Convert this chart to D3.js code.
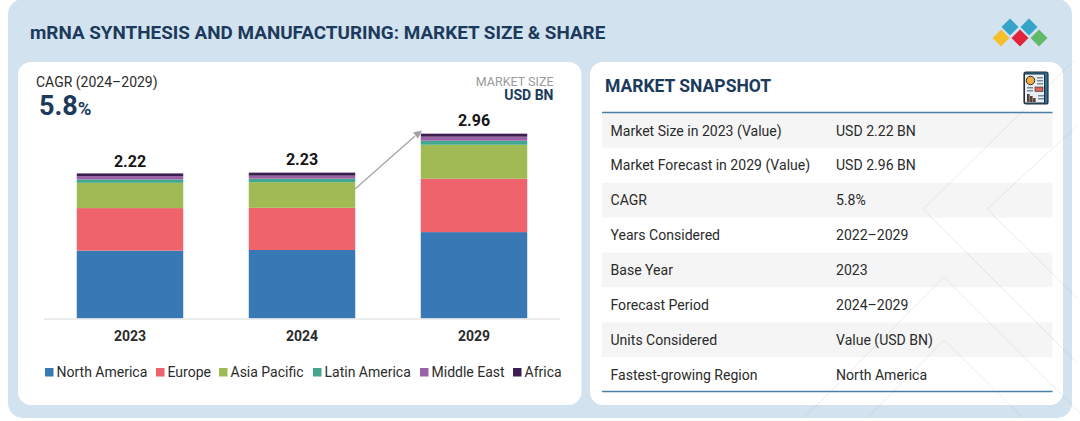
<!DOCTYPE html>
<html>
<head>
<meta charset="utf-8">
<script src="https://cdn.jsdelivr.net/npm/d3@7/dist/d3.min.js"></script>
<style>
html,body{margin:0;padding:0;background:#fff;overflow:hidden}
svg{display:block}
text{font-family:Roboto,sans-serif}
</style>
</head>
<body>
<svg id="c" width="1080" height="421"></svg>
<script>
const years = ["2023", "2024", "2029"];
const totals = [2.22, 2.23, 2.96];
const regions = ["North America", "Europe", "Asia Pacific", "Latin America", "Middle East", "Africa"];
const regionColors = ["#3878b5", "#ee636c", "#a0ba54", "#41a88f", "#9b62a8", "#3c1f50"];
const northAmerica = [1.06, 1.07, 1.35];
const europe = [0.665, 0.66, 0.835];
const asiaPacific = [0.395, 0.40, 0.53];
const latinAmerica = [0.053, 0.055, 0.063];
const middleEast = [0.052, 0.047, 0.063];
const africa = [0.042, 0.047, 0.047];
const snapshotLabels = ["Market Size in 2023 (Value)", "Market Forecast in 2029 (Value)", "CAGR", "Years Considered", "Base Year", "Forecast Period", "Units Considered", "Fastest-growing Region"];
const snapshotValues = ["USD 2.22 BN", "USD 2.96 BN", "5.8%", "2022\u20132029", "2023", "2024\u20132029", "Value (USD BN)", "North America"];
const legendX = [45, 156, 219, 313, 420, 513];

const svg = d3.select("#c");
const navy = "#1b3a5c", ink = "#2b2b2b";

// panels
svg.append("rect").attr("x", 8).attr("y", -1).attr("width", 1064).attr("height", 419).attr("rx", 15).attr("fill", "#d3e2ef");
svg.append("rect").attr("x", 18).attr("y", 62).attr("width", 563.5).attr("height", 343).attr("rx", 13).attr("fill", "#fff");
svg.append("rect").attr("x", 590).attr("y", 62).attr("width", 473).attr("height", 343).attr("rx", 13).attr("fill", "#fff");

// header
svg.append("text").attr("x", 30).attr("y", 39).attr("font-size", 18.86).attr("font-weight", 700).attr("fill", navy)
  .text("mRNA SYNTHESIS AND MANUFACTURING: MARKET SIZE & SHARE");

// logo
const diamonds = [[1010, 27, "#36a3c9"], [1029, 27, "#36a3c9"], [1001, 38, "#f4bf2a"], [1020, 38, "#e2233e"], [1039, 38, "#63b96a"]];
svg.append("g").selectAll("path").data(diamonds).join("path")
  .attr("d", d => `M${d[0]},${d[1] - 8.5}L${d[0] + 8.5},${d[1]}L${d[0]},${d[1] + 8.5}L${d[0] - 8.5},${d[1]}Z`)
  .attr("fill", d => d[2]);

// left card header
svg.append("text").attr("x", 36).attr("y", 87).attr("font-size", 14).attr("fill", ink).text("CAGR (2024\u20132029)");
const cg = svg.append("text").attr("x", 39).attr("y", 115).attr("fill", navy);
cg.append("tspan").attr("font-size", 27).attr("font-weight", 700).text("5.8");
cg.append("tspan").attr("font-size", 18.5).attr("font-weight", 700).text("%");
svg.append("text").attr("x", 553.5).attr("y", 86).attr("text-anchor", "end").attr("font-size", 12.5).attr("fill", "#9a9a9a").text("MARKET SIZE");
svg.append("text").attr("x", 553.5).attr("y", 100).attr("text-anchor", "end").attr("font-size", 14).attr("font-weight", 700).attr("fill", navy).text("USD BN");

// chart
const x = d3.scaleBand().domain(years).range([44, 560]).paddingInner(0.381).paddingOuter(0.1905);
const y = d3.scaleLinear().domain([0, 3]).range([318.5, 126.5]);
const table = years.map((yr, i) => ({
  year: yr,
  "North America": northAmerica[i], "Europe": europe[i], "Asia Pacific": asiaPacific[i],
  "Latin America": latinAmerica[i], "Middle East": middleEast[i], "Africa": africa[i]
}));
const stack = d3.stack().keys(regions)(table);
const color = d3.scaleOrdinal(regions, regionColors);
svg.append("g").selectAll("g").data(stack).join("g").attr("fill", d => color(d.key))
  .selectAll("rect").data(d => d).join("rect")
  .attr("x", d => x(d.data.year)).attr("width", x.bandwidth())
  .attr("y", d => y(d[1])).attr("height", d => y(d[0]) - y(d[1]));

const axis = svg.append("g").attr("transform", "translate(0,319)")
  .call(d3.axisBottom(x).tickSize(0).tickPadding(12.5));
axis.select(".domain").remove();
svg.append("line").attr("x1", 44).attr("x2", 560).attr("y1", 319).attr("y2", 319).attr("stroke", "#e4e6e8").attr("stroke-width", 1.5);
axis.selectAll("text").attr("font-size", 14).attr("font-weight", 700).attr("fill", ink).attr("font-family", "Roboto,sans-serif");

const labelGap = [6, 8, 8];
const stackTop = i => y(d3.sum(regions, r => table[i][r]));
svg.append("g").selectAll("text").data(totals).join("text")
  .attr("x", (d, i) => x(years[i]) + x.bandwidth() / 2)
  .attr("y", (d, i) => stackTop(i) - labelGap[i])
  .attr("text-anchor", "middle").attr("font-size", 16).attr("font-weight", 700).attr("fill", "#161616")
  .text(d => d3.format(".2f")(d));

// growth arrow
svg.append("line").attr("x1", 355).attr("y1", 189).attr("x2", 415).attr("y2", 136).attr("stroke", "#a8a8a8").attr("stroke-width", 1.4);
svg.append("path").attr("d", "M422,130.5L413,132.5L418,138.5Z").attr("fill", "#a0a0a0");

// legend
const lg = svg.append("g").selectAll("g").data(regions).join("g").attr("transform", (d, i) => `translate(${legendX[i]},0)`);
lg.append("rect").attr("y", 368).attr("width", 8.5).attr("height", 8.5).attr("fill", d => color(d));
lg.append("text").attr("x", 11.5).attr("y", 377).attr("font-size", 14).attr("fill", ink).text(d => d);

// snapshot
svg.append("text").attr("x", 605).attr("y", 92).attr("font-size", 17.5).attr("font-weight", 700).attr("fill", navy).text("MARKET SNAPSHOT");
const rowH = 34.9, rowTop = 113;
const rows = svg.append("g").selectAll("g").data(snapshotLabels).join("g").attr("transform", (d, i) => `translate(0,${rowTop + i * rowH})`);
rows.append("rect").attr("x", 602).attr("width", 450.5).attr("height", rowH).attr("fill", (d, i) => i % 2 ? "#fff" : "#f5f5f5");
rows.append("text").attr("x", 610.5).attr("y", 22.5).attr("font-size", 14.05).attr("fill", ink).text(d => d);
rows.append("text").attr("x", 836).attr("y", 22.5).attr("font-size", 14.05).attr("fill", ink).text((d, i) => snapshotValues[i]);
svg.append("line").attr("x1", 602).attr("x2", 1052.5).attr("y1", 112.5).attr("y2", 112.5).attr("stroke", "#4a7fa7").attr("stroke-width", 1.6);
svg.append("line").attr("x1", 602).attr("x2", 1052.5).attr("y1", 391.5).attr("y2", 391.5).attr("stroke", "#4a7fa7").attr("stroke-width", 1.6);

// decorative chevrons
const deco = ["M1075,60L923,209L1077,363", "M1078,125L987,209L1077,298", "M805,417L944,277L1080,413", "M868,417L944,340L1022,417"];
svg.append("g").selectAll("path").data(deco).join("path").attr("d", d => d).attr("fill", "none")
  .attr("stroke", "#9aa5ae").attr("stroke-opacity", 0.22).attr("stroke-width", 1);

// report icon
const ic = svg.append("g").attr("transform", "translate(1023,71)");
ic.append("rect").attr("x", 1).attr("y", 1).attr("width", 24).attr("height", 32).attr("rx", 2).attr("fill", "#2c6f96").attr("stroke", "#22303c").attr("stroke-width", 1.2);
ic.append("rect").attr("x", 1.5).attr("y", 3).attr("width", 20).attr("height", 29).attr("fill", "#e8eef2").attr("stroke", "#22303c").attr("stroke-width", 1);
ic.append("circle").attr("cx", 7.5).attr("cy", 9.5).attr("r", 4.2).attr("fill", "#eeb04a").attr("stroke", "#3a2a20").attr("stroke-width", 1);
[[14, 6], [14, 9], [14, 12], [4, 16], [4, 19], [15, 24], [15, 27]].forEach(p => ic.append("rect").attr("x", p[0]).attr("y", p[1]).attr("width", 6).attr("height", 1.5).attr("fill", "#7d8b96"));
ic.append("rect").attr("x", 12).attr("y", 16).attr("width", 8).attr("height", 4.5).attr("fill", "#d9605c").attr("stroke", "#3a2a20").attr("stroke-width", 0.6);
[[4, 23, 8], [7, 25, 6], [10, 27, 4]].forEach(p => ic.append("rect").attr("x", p[0]).attr("y", p[1]).attr("width", 2.6).attr("height", p[2]).attr("fill", "#5a4236"));
</script>
</body>
</html>
